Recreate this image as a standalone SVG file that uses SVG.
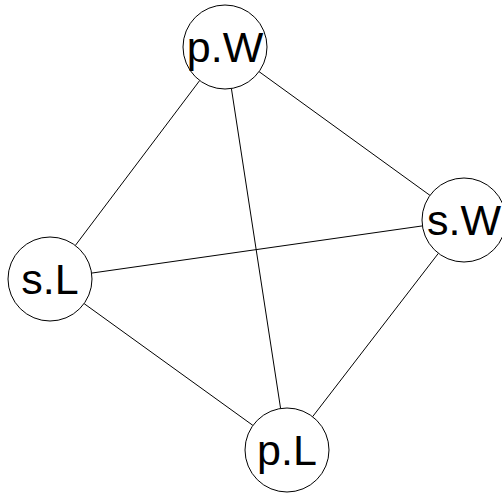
<svg xmlns="http://www.w3.org/2000/svg" width="502" height="494" viewBox="0 0 502 494">
<style>
.n{fill:#fff;stroke:#000;stroke-width:1}
.t{font-family:"Liberation Sans",Arial,sans-serif;font-size:43px;text-anchor:middle;fill:#000}
.e line{stroke:#000;stroke-width:1}
</style>
<rect width="502" height="494" fill="#fff"/>
<g class="e" id="edges">
<line x1="199.7" y1="80.5" x2="75.3" y2="245.5"/>
<line x1="231.4" y1="88.5" x2="280.6" y2="408.5"/>
<line x1="259.0" y1="71.6" x2="430.0" y2="195.4"/>
<line x1="91.6" y1="273.1" x2="422.4" y2="225.9"/>
<line x1="84.1" y1="303.6" x2="252.9" y2="425.4"/>
<line x1="438.4" y1="253.3" x2="312.6" y2="416.7"/>
</g>
<g id="pW"><circle class="n" cx="225" cy="47" r="42"/><text class="t" x="225" y="62">p.W</text></g>
<g id="sW"><circle class="n" cx="464" cy="220" r="42"/><text class="t" x="464" y="235">s.W</text></g>
<g id="sL"><circle class="n" cx="50" cy="279" r="42"/><text class="t" x="50" y="294">s.L</text></g>
<g id="pL"><circle class="n" cx="287" cy="450" r="42"/><text class="t" x="287" y="465">p.L</text></g>
</svg>
